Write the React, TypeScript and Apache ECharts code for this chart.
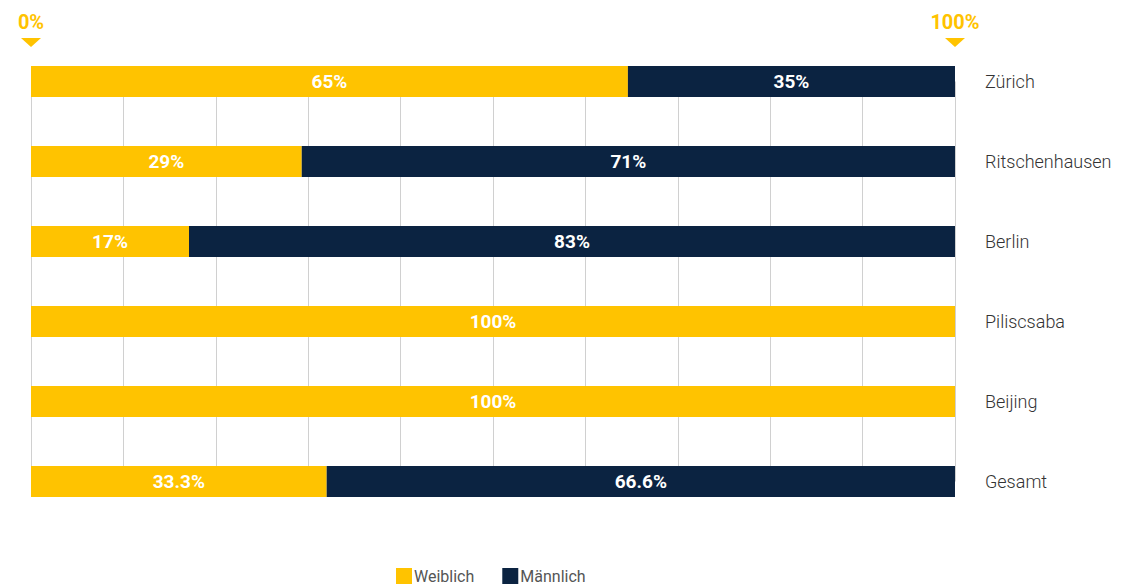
import React, { useEffect, useRef } from "react";
import * as echarts from "echarts";

const categories = ["Zürich", "Ritschenhausen", "Berlin", "Piliscsaba", "Beijing", "Gesamt"];
const weiblich = [64.6, 29.3, 17.1, 100, 100, 32];
const maennlich = [35.4, 70.7, 82.9, 0, 0, 68];
const weiblichLabels = ["65%", "29%", "17%", "100%", "100%", "33.3%"];
const maennlichLabels = ["35%", "71%", "83%", "", "", "66.6%"];
const seriesNames = ["Weiblich", "Männlich"];
const edgeLabels = ["0%", "100%"];

const YELLOW = "#FFC300";
const NAVY = "#0B2341";

export default function App() {
  const ref = useRef<HTMLDivElement>(null);
  useEffect(() => {
    if (!ref.current) return;
    const chart = echarts.init(ref.current, null, { renderer: "svg" });
    const gridLeft = 31;
    const gridRight = 955;
    const barLabel = (labels: string[]) => ({
      show: true,
      position: "inside",
      color: "#fff",
      fontFamily: "Roboto",
      fontWeight: "bold",
      fontSize: 19,
      formatter: (p: any) => labels[p.dataIndex],
    });
    chart.setOption({
      animation: false,
      grid: { left: gridLeft, right: 1130 - gridRight, top: 81.5, bottom: 587 - 481.5, containLabel: false },
      xAxis: {
        type: "value",
        min: 0,
        max: 100,
        interval: 10,
        axisLabel: { show: false },
        axisLine: { show: false },
        axisTick: { show: false },
        splitLine: { show: true, lineStyle: { color: "#d0d0d0", width: 1 } },
      },
      yAxis: {
        type: "category",
        data: categories,
        inverse: true,
        boundaryGap: false,
        position: "right",
        axisLine: { show: false },
        axisTick: { show: false },
        splitLine: { show: false },
        axisLabel: {
          margin: 30,
          align: "left",
          color: "#333",
          fontFamily: "Roboto",
          fontWeight: 300,
          fontSize: 18,
        },
      },
      legend: {
        data: seriesNames,
        top: 568,
        left: 396,
        padding: 0,
        icon: "rect",
        itemWidth: 16,
        itemHeight: 16,
        itemGap: 28,
        textStyle: { color: "#555", fontFamily: "Roboto", fontSize: 16, padding: [0, 0, 0, -3] },
      },
      graphic: [
        {
          type: "text",
          x: gridLeft,
          y: 22,
          style: {
            text: edgeLabels[0],
            fill: YELLOW,
            font: "bold 20px Roboto",
            textAlign: "center",
            textVerticalAlign: "middle",
          },
        },
        {
          type: "text",
          x: gridRight,
          y: 22,
          style: {
            text: edgeLabels[1],
            fill: YELLOW,
            font: "bold 20px Roboto",
            textAlign: "center",
            textVerticalAlign: "middle",
          },
        },
        {
          type: "polygon",
          shape: { points: [[gridLeft - 10, 38], [gridLeft + 10, 38], [gridLeft, 47]] },
          style: { fill: YELLOW },
        },
        {
          type: "polygon",
          shape: { points: [[gridRight - 10, 38], [gridRight + 10, 38], [gridRight, 47]] },
          style: { fill: YELLOW },
        },
      ],
      series: [
        {
          name: seriesNames[0],
          type: "bar",
          stack: "total",
          data: weiblich,
          barWidth: 31,
          clip: false,
          itemStyle: { color: YELLOW },
          label: barLabel(weiblichLabels),
        },
        {
          name: seriesNames[1],
          type: "bar",
          stack: "total",
          data: maennlich,
          barWidth: 31,
          clip: false,
          itemStyle: { color: NAVY },
          label: barLabel(maennlichLabels),
        },
      ],
    });
    return () => chart.dispose();
  }, []);
  return (
    <div
      ref={ref}
      style={{ position: "fixed", left: 0, top: 0, width: 1130, height: 587, background: "#fff" }}
    />
  );
}
